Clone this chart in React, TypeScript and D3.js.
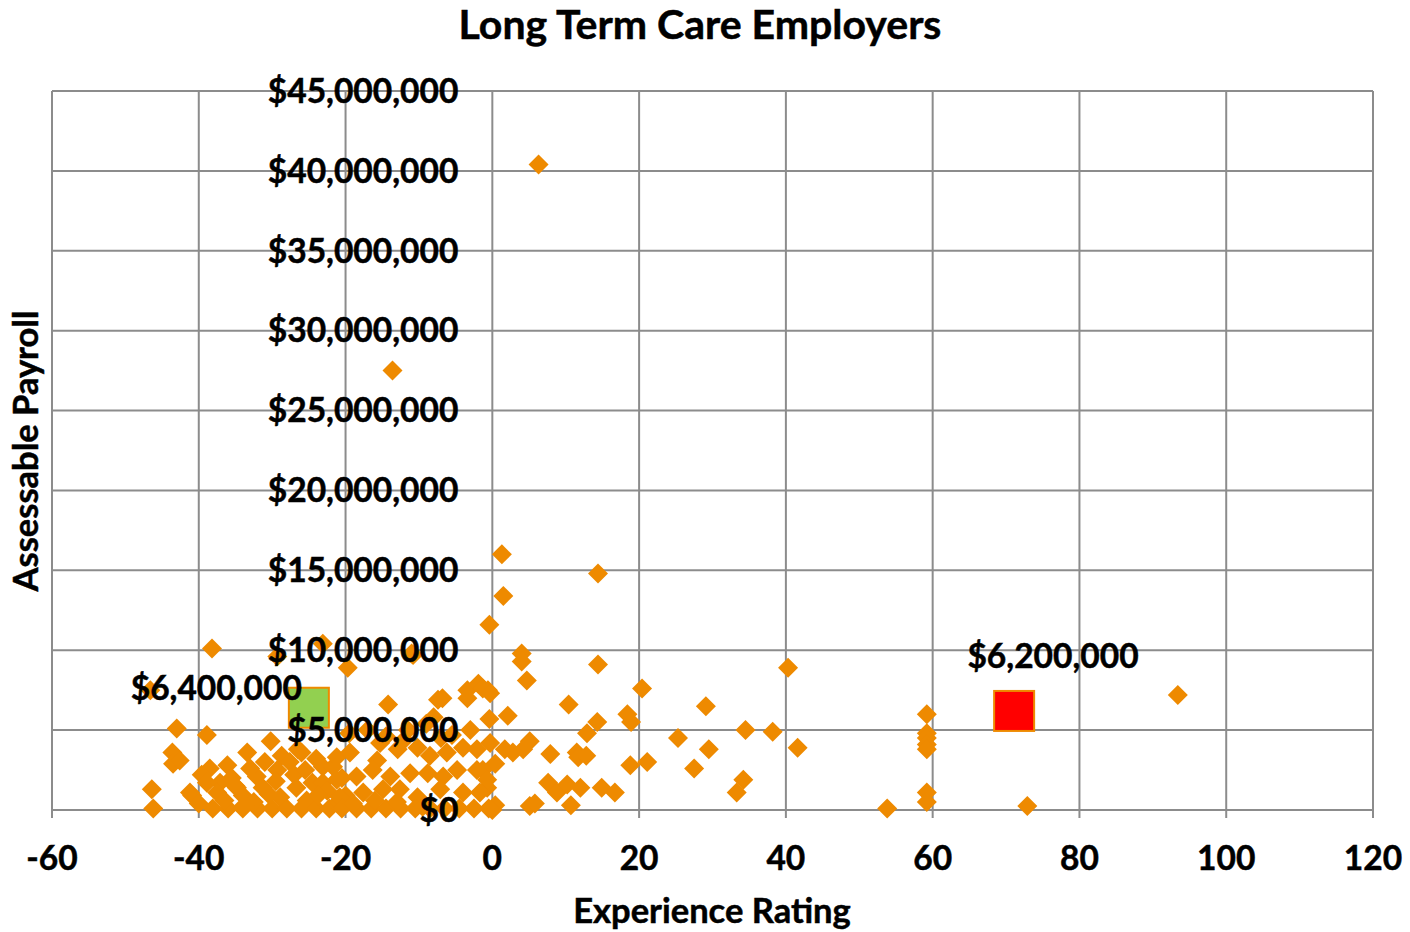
import React from "react";
import * as d3 from "d3";

const W = 1410;
const H = 932;

const titleText = "Long Term Care Employers";
const xTitle = "Experience Rating";
const yTitle = "Assessable Payroll";

const xTicks = [-60, -40, -20, 0, 20, 40, 60, 80, 100, 120];
const yTicks = [0, 5e6, 10e6, 15e6, 20e6, 25e6, 30e6, 35e6, 40e6, 45e6];

// Experience rating (x) and assessable payroll in $ millions (y)
const ratings = [
  6.3, -13.6, 1.3, 14.4, 1.5, -0.4, -38.2, -23.1, -29.3, -11.0, -19.7, 4.0, 4.0, 14.4, 40.3, 4.7,
  93.4, 20.4, -46.6, -6.8, -3.4, -1.9, -0.6, -3.4, -1.3, -0.3, -14.2, -7.4, 10.4, 29.1, 59.2, 2.1,
  -0.4, 18.4, 18.9, -43.0, -38.9, 14.3, 12.9, 34.5, 38.2, 25.3, 41.6, 29.5, 59.2, 59.2, 59.2, 59.2,
  59.2, 59.2, 53.8, 72.9, 21.1, 18.8, 27.5, 34.2, 33.3, 14.9, 16.7, 10.7, 7.9, 11.5, 11.7, 12.8,
  7.6, 8.8, 10.2, 12.0, 5.1, 4.2, 2.8, 1.7, 0.4, -1.3, -0.7, 0.4, 0.0, 5.1, 5.8, -46.4,
  -46.2, -40.9, -43.6, -43.5, -42.6, -33.4, -30.2, -38.5, -36.1, -39.6, -38.9, -37.1, -28.7, -27.6, -29.3, -41.2,
  -32.1, -31.3, -34.8, -37.5, -28.9, -26.7, -24.5, -23.1, -21.7, -23.1, -25.3, -38.1, -36.0, -34.0, -32.0, -30.0,
  -28.0, -26.0, -24.0, -22.2, -36.5, -34.0, -32.5, -30.5, -29.5, -27.0, -25.5, -24.0, -22.5, -21.0, -35.5, -33.0,
  -31.0, -26.0, -23.8, -20.5, -20.0, -26.5, -15.3, -21.2, -19.4, -15.7, -12.9, -10.2, -8.5, -6.2, -4.0, -2.1,
  -0.3, -21.2, -18.5, -16.3, -13.9, -11.2, -8.8, -6.7, -4.8, -2.1, -0.7, -20.8, -17.6, -14.9, -12.6, -10.2,
  -7.1, -4.0, -1.7, -20.5, -18.5, -16.5, -14.5, -12.5, -10.5, -8.5, -6.5, -4.5, -2.5, -0.5, -17.0, -14.5,
  -9.0, -8.0, -7.0, -5.5, -11.5, -19.5, -3.0, -12.0, -10.8, -40.0, -35.0, -33.8, -19.0, -16.0, -13.0, -9.5,
];
const payrollsM = [
  40.4, 27.5, 16.0, 14.8, 13.4, 11.6, 10.1, 10.4, 9.6, 9.8, 8.9, 9.8, 9.3, 9.1, 8.9, 8.1,
  7.2, 7.6, 7.5, 7.0, 7.5, 7.9, 7.5, 7.0, 7.6, 7.3, 6.6, 6.9, 6.6, 6.5, 6.0, 5.9,
  5.7, 6.0, 5.5, 5.1, 4.7, 5.5, 4.8, 5.0, 4.9, 4.5, 3.9, 3.8, 4.8, 4.5, 4.1, 3.8,
  1.1, 0.5, 0.1, 0.25, 3.0, 2.8, 2.6, 1.9, 1.1, 1.4, 1.1, 0.3, 3.5, 3.6, 3.3, 3.4,
  1.7, 1.1, 1.6, 1.4, 4.3, 3.8, 3.6, 3.8, 2.9, 2.5, 1.4, 0.3, 0.0, 0.25, 0.4, 1.3,
  0.1, 0.9, 3.6, 2.9, 3.1, 3.6, 4.3, 2.6, 2.8, 2.2, 1.7, 1.7, 3.4, 3.0, 2.5, 1.1,
  2.1, 1.4, 1.4, 1.1, 0.8, 1.4, 1.7, 2.7, 2.7, 1.7, 0.6, 0.1, 0.1, 0.1, 0.1, 0.1,
  0.1, 0.1, 0.1, 0.1, 0.6, 0.9, 0.5, 1.0, 1.8, 2.2, 2.5, 3.2, 1.2, 0.5, 2.0, 2.6,
  3.0, 3.6, 0.9, 2.0, 0.9, 3.8, 4.2, 3.3, 3.6, 3.1, 3.8, 3.9, 3.4, 3.6, 3.9, 3.8,
  4.2, 1.9, 2.1, 2.5, 2.1, 2.3, 2.3, 2.1, 2.5, 2.5, 1.9, 0.8, 1.1, 1.3, 1.3, 0.8,
  1.3, 1.1, 1.1, 0.1, 0.1, 0.1, 0.1, 0.1, 0.1, 0.1, 0.1, 0.1, 0.1, 0.1, 5.0, 4.6,
  5.4, 5.8, 4.5, 4.7, 5.0, 4.8, 5.0, 4.4, 9.7, 0.4, 1.5, 0.3, 0.4, 0.6, 0.5, 0.2,
];

const highlightRatings = [-25, 71.1];
const highlightPayrollsM = [6.4, 6.2];
const highlightLabels = ["$6,400,000", "$6,200,000"];
const highlightFills = ["#92D050", "#FF0000"];

const FONT = "Lato, 'Open Sans', 'DejaVu Sans', sans-serif";
const GRID = "#8C8C8C";
const ORANGE = "#EE8A00";

export default function App() {
  const x = d3.scaleLinear().domain([-60, 120]).range([52, 1373]);
  const y = d3.scaleLinear().domain([0, 45e6]).range([810, 91]);
  const fmt = (v: number) => "$" + d3.format(",")(v);
  const r = 10;
  const diamond = (cx: number, cy: number) =>
    `M${cx},${cy - r}L${cx + r},${cy}L${cx},${cy + r}L${cx - r},${cy}Z`;

  const pts = ratings.map((rt, i) => ({ x: rt, y: payrollsM[i] * 1e6 }));
  const LBL = 33.5;
  const heavy = { fontWeight: "bold" as const, fill: "#000", stroke: "#000", strokeWidth: 0.5 };

  return (
    <svg
      width={W}
      height={H}
      style={{ position: "absolute", left: 0, top: 0, background: "#fff" }}
      fontFamily={FONT}
    >
      <rect x={0} y={0} width={W} height={H} fill="#fff" />
      {yTicks.map((t) => (
        <line key={"h" + t} x1={x(-60)} x2={x(120)} y1={y(t)} y2={y(t)} stroke={GRID} strokeWidth={2} />
      ))}
      {xTicks.map((t) => (
        <line key={"v" + t} x1={x(t)} x2={x(t)} y1={y(45e6)} y2={y(0) + 8} stroke={GRID} strokeWidth={2} />
      ))}
      {pts.map((p, i) => (
        <path key={"p" + i} d={diamond(x(p.x), y(p.y))} fill={ORANGE} />
      ))}
      {highlightRatings.map((hr, i) => (
        <rect
          key={"hs" + i}
          x={x(hr) - 20}
          y={y(highlightPayrollsM[i] * 1e6) - 20}
          width={40}
          height={40}
          fill={highlightFills[i]}
          stroke={ORANGE}
          strokeWidth={2}
        />
      ))}
      {yTicks.map((t) => (
        <text key={"yl" + t} x={x(0) - 34} y={y(t)} dy="0.35em" textAnchor="end" fontSize={LBL} {...heavy}>
          {fmt(t)}
        </text>
      ))}
      {xTicks.map((t) => (
        <text key={"xl" + t} x={x(t)} y={870} textAnchor="middle" fontSize={LBL} {...heavy}>
          {t}
        </text>
      ))}
      <text x={x(highlightRatings[0]) - 7} y={700} textAnchor="end" fontSize={LBL} {...heavy}>
        {highlightLabels[0]}
      </text>
      <text x={1053} y={668} textAnchor="middle" fontSize={LBL} {...heavy}>
        {highlightLabels[1]}
      </text>
      <text x={700} y={39} textAnchor="middle" fontSize={41} {...heavy}>
        {titleText}
      </text>
      <text x={712} y={923} textAnchor="middle" fontSize={34.5} {...heavy}>
        {xTitle}
      </text>
      <text transform={`translate(38,451) rotate(-90)`} textAnchor="middle" fontSize={34.5} {...heavy}>
        {yTitle}
      </text>
    </svg>
  );
}
